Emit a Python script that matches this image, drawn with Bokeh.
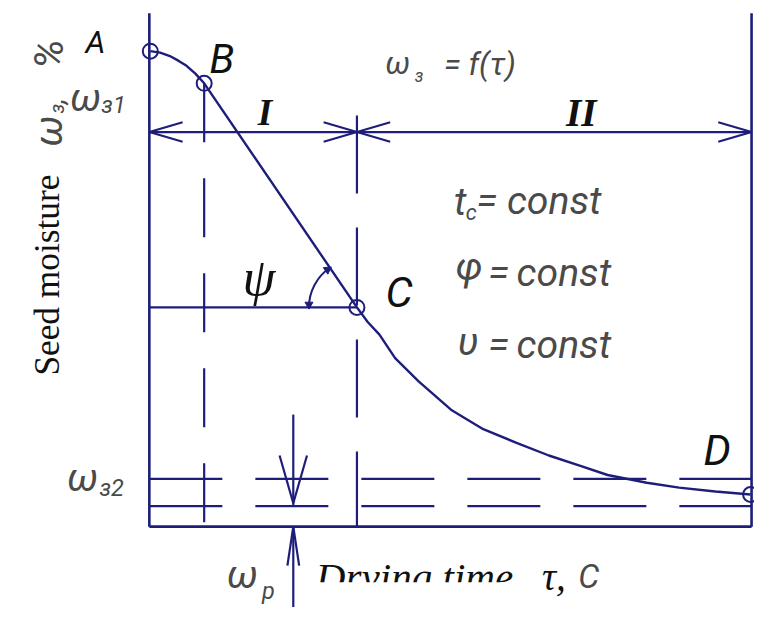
import math
from bokeh.plotting import figure
from bokeh.models import Range1d
from bokeh.core.properties import value
from bokeh.embed import file_html
from bokeh.resources import INLINE

# ---------------- data (drying time tau, seed moisture omega %) ----------------
point_names = ["A", "B", "C", "D"]
point_tau = [0.1, 5.6, 21.2, 61.4]
point_w = [97.6, 91.0, 45.0, 6.6]

curve_tau = [0.1, 1.1, 2.1, 3.0, 3.8, 4.7, 5.6, 21.2, 22.3, 23.5, 25.1, 27.5,
             30.8, 34.1, 37.5, 40.8, 44.1, 46.8, 50.8, 54.1, 57.8, 61.4]
curve_w = [97.6, 97.3, 96.6, 95.6, 94.6, 93.0, 91.0, 45.0, 42.0, 39.4, 34.6, 29.8,
           24.0, 20.0, 17.2, 14.6, 12.4, 10.6, 9.0, 8.0, 7.2, 6.6]

w_eq2 = 9.8      # omega_z2 level
w_p = 4.2        # omega_p level
tau_max = 61.5   # end of drying-time axis
w_max = 105.4    # top of moisture axis
w_dim = 81.0     # level of the period dimension line
tau_p = 14.7     # position of the omega_p arrows

# ---------------- layout helpers (reference px -> data) ----------------
W, H = 754, 607
SX, SY = W / 770.0, H / 623.0
def X(px):
    return (px - 152) / 10.0
def Y(py):
    return (540 - py) / 5.0

p = figure(width=W, height=H, x_range=Range1d(X(0), X(770)), y_range=Range1d(Y(623), Y(0)),
           output_backend="svg", toolbar_location=None, x_axis_type=None, y_axis_type=None,
           min_border=0, outline_line_color=None, background_fill_color="white",
           border_fill_color="white")
p.grid.visible = False

LC = "#1e1e7a"
LW = 2.2
TC = "#4a4a4a"

tA, tB, tC, tD = point_tau
wA, wB, wC, wD = point_w

# axes frame
p.segment(x0=[0, 0, tau_max], y0=[0, 0, 0], x1=[0, tau_max, tau_max], y1=[w_max, 0, w_max],
          line_color=LC, line_width=2.6)

# horizontal solid line through C, dimension line
p.segment(x0=[0, 0], y0=[wC, w_dim], x1=[tC, tau_max], y1=[wC, w_dim], line_color=LC, line_width=LW)

# dashed verticals through B and C
p.line([tB, tB], [wB, 0], line_color=LC, line_width=LW, line_dash="59 36")
p.line([tC, tC], [Y(118), 0], line_color=LC, line_width=LW, line_dash="78 34")

# dashed horizontal levels
for lev in (w_eq2, w_p):
    p.line([0, tau_max], [lev, lev], line_color=LC, line_width=LW, line_dash="73 33")

# dimension arrowheads (open V)
al, ah = 3.4, 2.0
tips = [(0, 1), (tC, -1), (tC, 1), (tau_max, -1)]
x0s, y0s, x1s, y1s = [], [], [], []
for tx, d in tips:
    for s in (1, -1):
        x0s.append(tx); y0s.append(w_dim)
        x1s.append(tx + d * al); y1s.append(w_dim + s * ah)
p.segment(x0=x0s, y0=y0s, x1=x1s, y1=y1s, line_color=LC, line_width=LW)

# omega_p arrows
p.segment(x0=[tau_p, tau_p], y0=[Y(425), 0], x1=[tau_p, tau_p], y1=[w_p, Y(640)],
          line_color=LC, line_width=LW)
p.segment(x0=[X(285), X(313), X(293), X(305)], y0=[Y(467), Y(467), Y(580), Y(580)],
          x1=[tau_p, tau_p, tau_p, tau_p], y1=[Y(516), Y(516), 0, 0],
          line_color=LC, line_width=LW)

# curve
p.line(curve_tau, curve_w, line_color=LC, line_width=2.4, line_join="round")

# psi arc
r = 49
dxp = (tB - tC) * 10 * SX
dyp = (wB - wC) * 5 * SY
angC = math.atan2(dyp, dxp)
p.arc(x=[tC], y=[wC], radius=r * SX, radius_units="screen", start_angle=angC, end_angle=math.pi,
      line_color=LC, line_width=2)
ends = []
for th, sgn in ((angC, 1), (math.pi, -1)):
    ex = tC + r * math.cos(th) / 10.0
    ey = wC + r * math.sin(th) / 5.0
    if sgn == 1:
        tx_, ty_ = math.sin(th), -math.cos(th)
    else:
        tx_, ty_ = -math.sin(th), math.cos(th)
    rot = math.atan2(ty_, tx_) - math.pi / 2
    ends.append((ex - tx_ * 0.3, ey - ty_ * 0.6, rot))
p.scatter(x=[e[0] for e in ends], y=[e[1] for e in ends], angle=[e[2] for e in ends],
          marker="triangle", size=8, fill_color=LC, line_color=LC)

# points
p.scatter(point_tau, point_w, marker="circle", size=15, fill_alpha=0, line_color=LC, line_width=2)

# ---------------- texts ----------------
def txt(px, py, s, size, font="Roboto", style="italic", color=TC, align="left",
        baseline="alphabetic", angle=0.0):
    p.text(x=[X(px)], y=[Y(py)], text=[s], text_font=value(font),
           text_font_size=f"{size * SX:.1f}px", text_font_style=style, text_color=color,
           text_align=align, text_baseline=baseline, angle=angle)

lab_pos = {"A": (97, 43, 32), "B": (226, 60, 42), "C": (407, 300, 44), "D": (732, 462, 44)}
for n in point_names:
    px, py, fs = lab_pos[n]
    txt(px, py, n, fs, color="#111111", align="center")

txt(87, 100, "ω", 40, align="center")
txt(103, 107, "з1", 24)
txt(84, 490, "ω", 40, align="center")
txt(101, 500, "з2", 24)

txt(270, 115, "I", 38, font="Liberation Serif", style="bold italic", color="#111111", align="center")
txt(593, 115, "II", 40, font="Liberation Serif", style="bold italic", color="#111111", align="center")
txt(264, 284, "ψ", 54, font="Liberation Serif", color="#111111", align="center", baseline="middle")

txt(393, 65, "ω", 32)
txt(423, 78, "з", 18)
txt(453, 66, "=  f(τ)", 32)

txt(463, 207, "t", 40)
txt(475, 218, "c", 22)
txt(486, 206, "= const", 40)
txt(465, 274, "φ", 40)
txt(498, 280, "=", 40)
txt(527, 280, "const", 40)
txt(467, 350, "υ", 40)
txt(498, 354, "=", 40)
txt(527, 354, "const", 40)

txt(247, 590, "ω", 40, align="center")
txt(267, 606, "р", 24)
txt(322, 592, "Drying time", 42, font="Liberation Serif", color="#111111")
txt(553, 591, "τ,", 40, font="Liberation Serif", color="#111111")
txt(590, 591, "C", 34)

rot = math.pi / 2
txt(48, 385, "Seed moisture", 36, font="Liberation Serif", style="normal", color="#111111", angle=rot)
txt(50, 150, "ω", 40, angle=rot)
txt(58, 116, "з", 20, angle=rot)
txt(54, 106, ",", 30, angle=rot)
txt(50, 70, "%", 42, angle=rot)

# bottom edge of the image cuts the descenders of the axis title
p.quad(left=[X(315)], right=[X(545)], top=[Y(597)], bottom=[Y(640)], fill_color="white",
       line_color=None)

open("out.html", "w").write(file_html(p, INLINE))
